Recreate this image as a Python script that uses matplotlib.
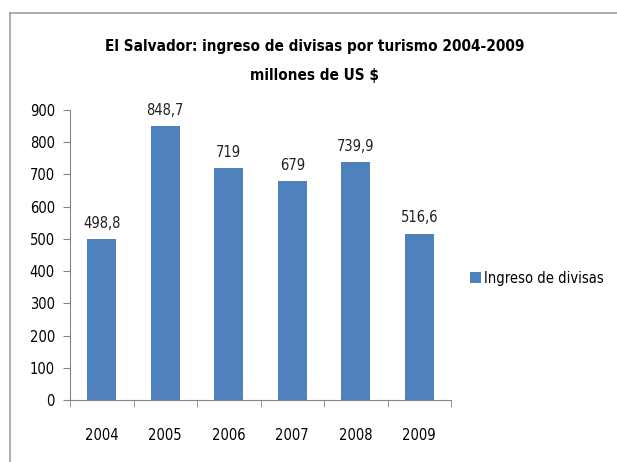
import matplotlib.pyplot as plt
from matplotlib.lines import Line2D

years = ['2004', '2005', '2006', '2007', '2008', '2009']
divisas = [498.8, 848.7, 719, 679, 739.9, 516.6]
etiquetas = ['498,8', '848,7', '719', '679', '739,9', '516,6']
yticks = [0, 100, 200, 300, 400, 500, 600, 700, 800, 900]

plt.rcParams['font.family'] = ['DejaVu Sans']
plt.rcParams['font.stretch'] = 'condensed'

fig = plt.figure(figsize=(6.17, 4.62), dpi=100)
ax = fig.add_axes([0.1135, 0.134, 0.6175, 0.628])

# marco del grafico: solo se ven el borde superior e izquierdo
x0 = 10 / 617
y0 = 1 - 13 / 462
fig.add_artist(Line2D([x0, x0], [0, y0], transform=fig.transFigure,
                      color='#a0a0a0', linewidth=1.2))
fig.add_artist(Line2D([x0, 1], [y0, y0], transform=fig.transFigure,
                      color='#a0a0a0', linewidth=1.2))

x = range(len(years))
bars = ax.bar(x, divisas, width=0.46, color='#4f81bd', label='Ingreso de divisas')
for b, t in zip(bars, etiquetas):
    ax.text(b.get_x() + b.get_width() / 2, b.get_height() + 25, t,
            ha='center', va='bottom', fontsize=10.5, color='#222222')

ax.set_xlim(-0.5, len(years) - 0.5)
ax.set_ylim(0, 900)
ax.set_yticks(yticks)
ax.set_xticks(x)
ax.set_xticklabels(years)
ax.set_xticks([i + 0.5 for i in range(-1, len(years))], minor=True)
ax.tick_params(axis='x', which='major', length=0, pad=20, labelsize=10.5)
ax.tick_params(axis='x', which='minor', length=5, color='#868686')
ax.tick_params(axis='y', length=5, color='#868686', labelsize=10.5, pad=6)

for s in ['top', 'right']:
    ax.spines[s].set_visible(False)
for s in ['left', 'bottom']:
    ax.spines[s].set_color('#868686')

fig.text(0.51, 0.90, 'El Salvador: ingreso de divisas por turismo 2004-2009',
         ha='center', va='center', fontsize=11, fontweight='bold')
fig.text(0.51, 0.837, 'millones de US $', ha='center', va='center',
         fontsize=11, fontweight='bold')

fig.legend(loc='center left', bbox_to_anchor=(0.74, 0.398), frameon=False,
           fontsize=10.5, handlelength=0.8, handleheight=0.8, handletextpad=0.2)

fig.savefig('out.png', dpi=100)
